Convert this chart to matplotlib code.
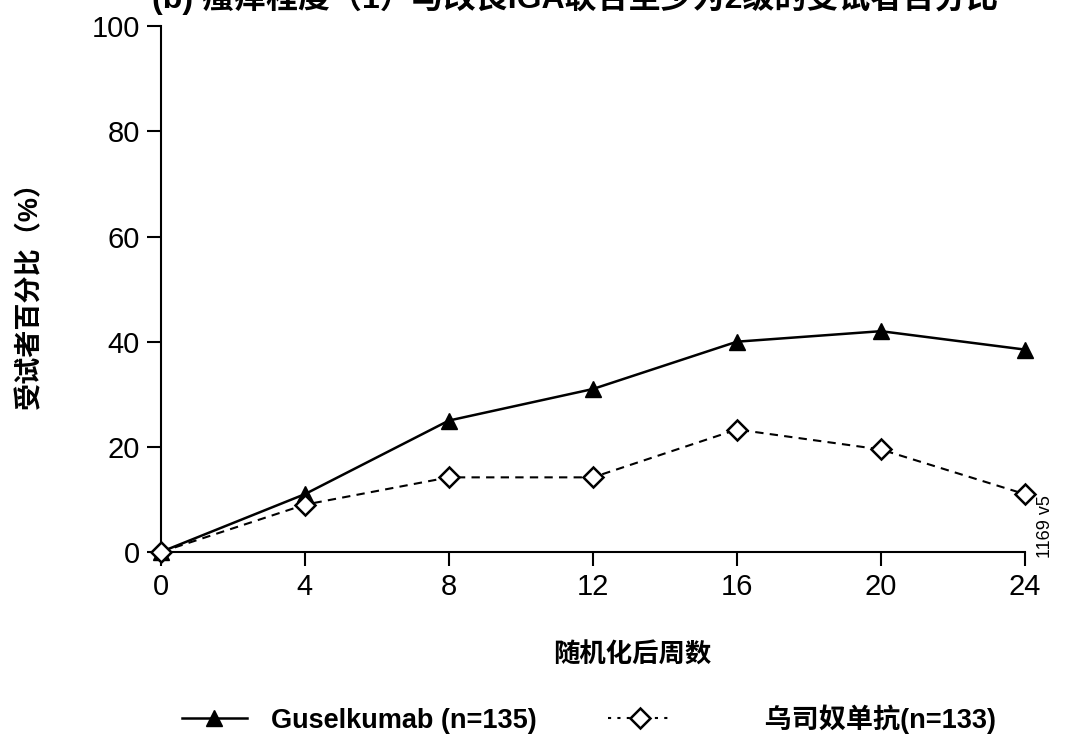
import matplotlib
matplotlib.use("Agg")
import matplotlib.pyplot as plt
from matplotlib.lines import Line2D

plt.rcParams['font.family'] = ['Liberation Sans', 'Noto Sans CJK SC', 'DejaVu Sans']

# data
weeks = [0, 4, 8, 12, 16, 20, 24]
guselkumab = [0, 11, 25, 31, 40, 42, 38.5]
ustekinumab = [0, 9, 14.2, 14.2, 23.3, 19.5, 11]
x_ticks = [0, 4, 8, 12, 16, 20, 24]
y_ticks = [0, 20, 40, 60, 80, 100]

fig = plt.figure(figsize=(10.65, 7.49), dpi=100)
ax = fig.add_axes([0.151, 0.263, 0.8114, 0.702])

ax.plot(weeks, guselkumab, color='black', lw=1.8, marker='^', markersize=12,
        markerfacecolor='black', markeredgecolor='black', clip_on=False, zorder=3)
ax.plot(weeks, ustekinumab, color='black', lw=1.5, ls=(0, (4, 3)), marker='D',
        markersize=10, markerfacecolor='white', markeredgecolor='black',
        markeredgewidth=1.8, clip_on=False, zorder=4)

ax.set_xlim(0, 24)
ax.set_ylim(0, 100)
ax.set_xticks(x_ticks)
ax.set_yticks(y_ticks)
for s in ['top', 'right']:
    ax.spines[s].set_visible(False)
for s in ['left', 'bottom']:
    ax.spines[s].set_linewidth(1.5)
ax.tick_params(direction='out', length=10, width=1.5, labelsize=21, pad=5)

# axis labels
fig.text(0.594, 0.126, '随机化后周数', fontsize=19, fontweight='bold',
         ha='center', va='center')
fig.text(0.028, 0.615, '受试者百分比（%）', rotation=90, fontsize=19.5,
         fontweight='bold', ha='center', va='center')

# title (cropped at the top in the original)
fig.text(0.54, 1.003, '(b) 瘙痒程度（1）与改良IGA联合至少为2级的受试者百分比',
         fontsize=23, fontweight='bold', ha='center', va='center')

fig.text(0.982, 0.297, '1169 v5', rotation=90, fontsize=13, ha='center', va='center')

h1 = Line2D([], [], color='black', lw=1.8, marker='^', markersize=12)
h2 = Line2D([], [], color='black', lw=1.5, ls=(0, (1.5, 3)), marker='D', markersize=10,
            markerfacecolor='white', markeredgewidth=1.8)
fig.legend([h1, h2], ['Guselkumab (n=135)', '         乌司奴单抗(n=133)'],
           loc='center', bbox_to_anchor=(0.553, 0.04), ncol=2, frameon=False,
           prop={'size': 19.5, 'weight': 'bold'}, handlelength=2.4,
           handletextpad=0.9, columnspacing=2.6)

fig.savefig('out.png', dpi=100)
